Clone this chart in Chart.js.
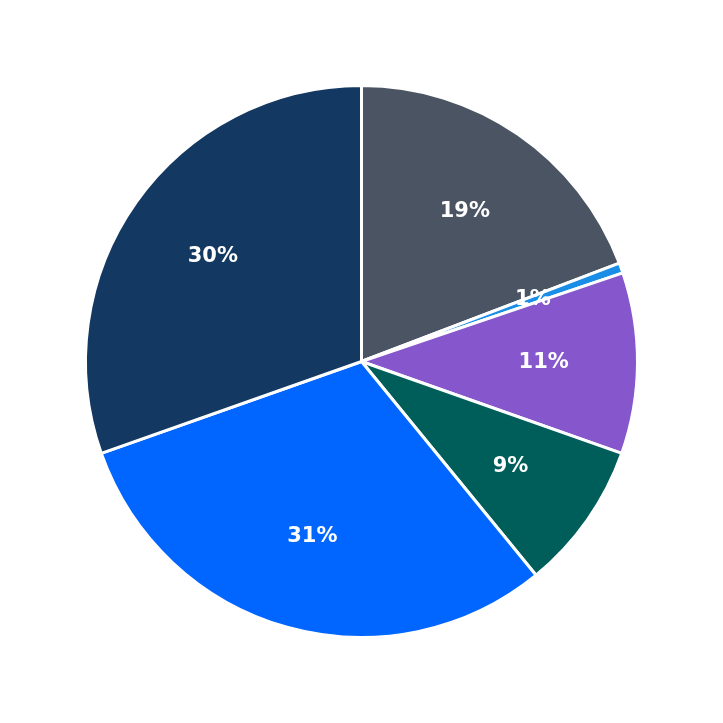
<!DOCTYPE html>
<html>
<head>
<meta charset="utf-8">
<script src="https://cdn.jsdelivr.net/npm/chart.js@4"></script>
<style>
  html, body { margin: 0; padding: 0; background: #fff; }
  #wrap { width: 723px; height: 723px; }
</style>
</head>
<body>
<div id="wrap"><canvas id="pie"></canvas></div>
<script>
// --- Data ---
const labels = ['A', 'B', 'C', 'D', 'E', 'F'];
const values = [19.2, 0.6, 10.6, 8.7, 30.5, 30.4];
const colors = ['#4a5462', '#1a8ee6', '#8556cc', '#005e5a', '#0066ff', '#133862'];

// Draws percentage text inside each slice
const sliceLabels = {
    id: 'sliceLabels',
    afterDatasetsDraw(chart) {
        const ctx = chart.ctx;
        const total = values.reduce((a, b) => a + b, 0);
        chart.getDatasetMeta(0).data.forEach((arc, i) => {
            const mid = (arc.startAngle + arc.endAngle) / 2;
            const r = arc.outerRadius * 0.66;
            const x = arc.x + Math.cos(mid) * r;
            const y = arc.y + Math.sin(mid) * r;
            ctx.save();
            ctx.fillStyle = '#ffffff';
            ctx.font = 'bold 21px "DejaVu Sans"';
            ctx.textAlign = 'center';
            ctx.textBaseline = 'middle';
            ctx.fillText(Math.round(values[i] / total * 100) + '%', x, y);
            ctx.restore();
        });
    }
};

new Chart(document.getElementById('pie'), {
    type: 'pie',
    data: {
        labels: labels,
        datasets: [{
            data: values,
            backgroundColor: colors,
            borderColor: '#ffffff',
            borderWidth: 3
        }]
    },
    options: {
        responsive: true,
        maintainAspectRatio: false,
        animation: false,
        layout: { padding: 84 },
        plugins: {
            legend: { display: false },
            tooltip: { enabled: false }
        }
    },
    plugins: [sliceLabels]
});
</script>
</body>
</html>
